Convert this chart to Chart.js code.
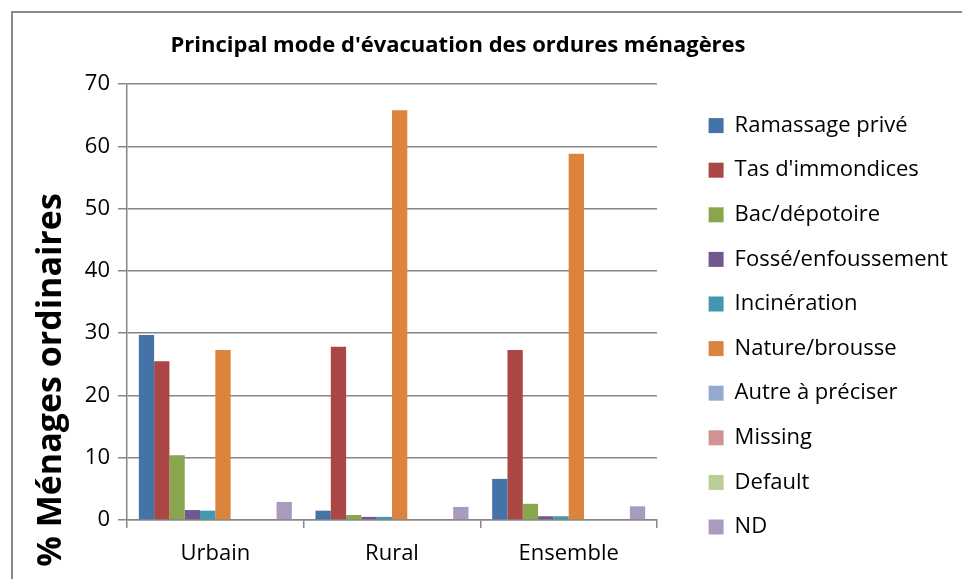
<!DOCTYPE html>
<html>
<head>
<meta charset="utf-8">
<script src="https://cdn.jsdelivr.net/npm/chart.js@4"></script>
<style>
  html, body { margin: 0; padding: 0; background: #fff; overflow: hidden; }
  #wrap { position: relative; width: 962px; height: 579px; }
  /* the outer frame: only left and top edges are inside the picture */
  #frame { position: absolute; left: 11px; top: 11px; width: 1000px; height: 1000px;
           border-left: 2px solid #898989; border-top: 2px solid #898989; }
  #chart { position: absolute; left: 0; top: 0; }
</style>
</head>
<body>
<div id="wrap">
  <div id="frame"></div>
  <canvas id="chart" width="962" height="579"></canvas>
</div>
<script>
// ── data ────────────────────────────────────────────────
const categories = ['Urbain', 'Rural', 'Ensemble'];

const seriesNames = [
    'Ramassage privé', 'Tas d\'immondices', 'Bac/dépotoire', 'Fossé/enfoussement',
    'Incinération', 'Nature/brousse', 'Autre à préciser', 'Missing', 'Default', 'ND'
];

const ramassage    = [29.7, 1.5, 6.6];
const tas          = [25.5, 27.8, 27.3];
const bac          = [10.4, 0.8, 2.6];
const fosse        = [1.6, 0.5, 0.6];
const incineration = [1.5, 0.5, 0.6];
const nature       = [27.3, 65.8, 58.8];
const autre        = [0, 0, 0];
const missing      = [0, 0, 0];
const defaut       = [0, 0, 0];
const nd           = [2.9, 2.1, 2.2];

const seriesValues = [ramassage, tas, bac, fosse, incineration, nature, autre, missing, defaut, nd];

const yTicks = [0, 10, 20, 30, 40, 50, 60, 70];

const title = 'Principal mode d\'évacuation des ordures ménagères';
const yTitle = '% Ménages ordinaires';

// ── styles ──────────────────────────────────────────────
const colors = ['#4572A7', '#AA4643', '#89A54E', '#71588F', '#4198AF',
                '#DB843D', '#93A9CF', '#D19392', '#B9CD96', '#A99BBD'];
const GRID = '#878787';
const FONT = 'Open Sans';

// keeps the plot box, legend and title where the original had them
const layoutFix = {
    id: 'layoutFix',
    afterInit(chart) {
        const legend = chart.legend;
        const fit = legend.fit;
        legend.fit = function () {
            fit.call(this);
            this.width = 305;
        };
    },
    afterLayout(chart) {
        const lg = chart.legend;
        lg.left = 686; lg.right = 962;
        lg.top = 92;  lg.bottom = 579;
        const t = chart.titleBlock;
        t.left = 0; t.right = 916;
    },
    afterDraw(chart) {
        const ctx = chart.ctx;
        ctx.save();
        ctx.translate(51, 380);
        ctx.rotate(-Math.PI / 2);
        ctx.font = 'bold 34px "' + FONT + '"';
        ctx.fillStyle = '#000';
        ctx.textAlign = 'center';
        ctx.textBaseline = 'middle';
        ctx.fillText(yTitle, 0, 0);
        ctx.restore();
    }
};

new Chart(document.getElementById('chart'), {
    type: 'bar',
    data: {
        labels: categories,
        datasets: seriesNames.map((name, i) => ({
            label: name,
            data: seriesValues[i],
            backgroundColor: colors[i],
            borderWidth: 0,
            barPercentage: 1.0,
            categoryPercentage: 0.866
        }))
    },
    options: {
        responsive: false,
        animation: false,
        plugins: {
            title: {
                display: true,
                text: title,
                color: '#000',
                font: { family: FONT, size: 22, weight: 'bold', lineHeight: 1.2 },
                padding: { top: 33, bottom: 24.6 }
            },
            legend: {
                position: 'right',
                align: 'start',
                labels: {
                    color: '#000',
                    font: { family: FONT, size: 22 },
                    boxWidth: 15,
                    boxHeight: 15,
                    padding: 22.6
                }
            },
            tooltip: { enabled: false }
        },
        scales: {
            x: {
                afterFit(scale) { scale.height = 59; },
                grid: {
                    offset: true,
                    drawOnChartArea: false,
                    drawTicks: true,
                    tickLength: 8,
                    color: GRID,
                    lineWidth: 1.5
                },
                border: { color: GRID, width: 1.5 },
                ticks: {
                    color: '#000',
                    padding: 13,
                    font: { family: FONT, size: 22 }
                }
            },
            y: {
                min: 0,
                max: 70,
                afterFit(scale) { scale.width = 127; },
                afterBuildTicks(scale) { scale.ticks = yTicks.map(v => ({ value: v })); },
                grid: {
                    color: GRID,
                    lineWidth: 1.5,
                    tickLength: 9
                },
                border: { color: GRID, width: 1.5 },
                ticks: {
                    color: '#000',
                    padding: 8,
                    font: { family: FONT, size: 22 }
                }
            }
        }
    },
    plugins: [layoutFix]
});
</script>
</body>
</html>
